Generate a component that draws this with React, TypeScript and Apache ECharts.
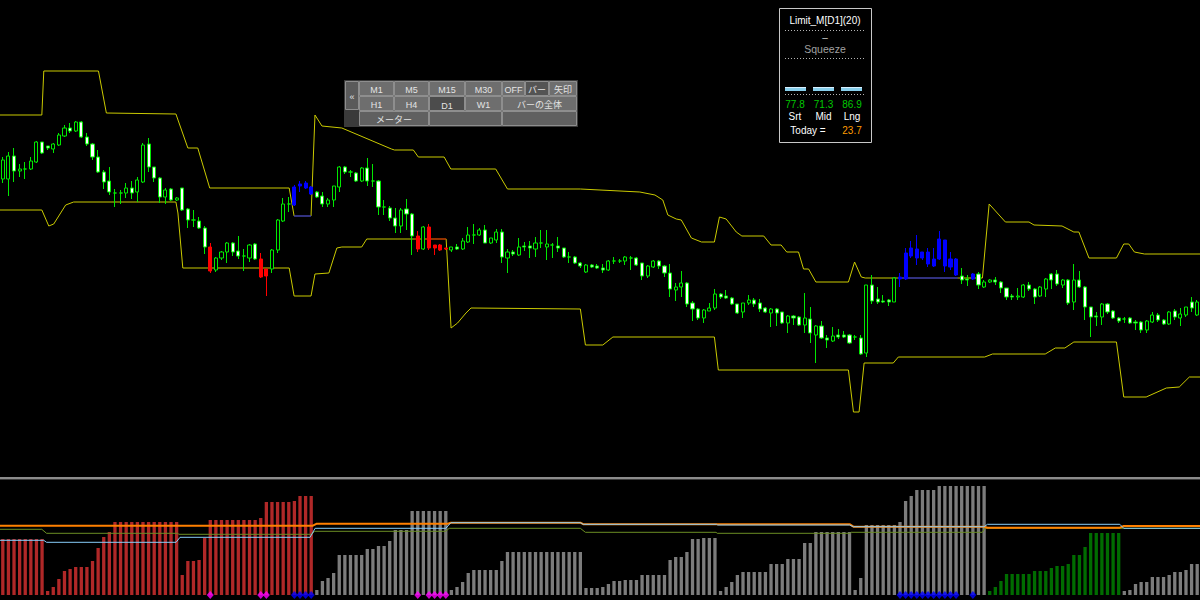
import React, { useEffect, useRef } from "react";
import * as echarts from "echarts";

// ---------- price data (levels, larger = lower on screen) ----------
const FIRST_BAR = -1;

const opens = [
  179, 179, 156, 171, 169, 169, 162, 142, 146, 149,
  145, 136, 128, 131, 122, 137, 144, 157, 172, 181,
  193, 193, 193, 188, 192, 182, 144, 167, 178, 197,
  189, 200, 188, 209, 220, 221, 228, 247, 270, 258,
  252, 243, 251, 256, 258, 244, 259, 269, 269, 250,
  221, 204, 205, 186, 188, 194, 192, 196, 204, 200,
  187, 167, 172, 173, 181, 168, 181, 181, 207, 208,
  218, 226, 209, 214, 236, 249, 227, 245, 245, 248,
  250, 247, 249, 242, 235, 235, 230, 243, 240, 232,
  258, 252, 255, 246, 246, 249, 243, 247, 245, 246,
  248, 257, 257, 263, 272, 265, 266, 268, 270, 261,
  261, 261, 258, 258, 263, 276, 267, 261, 266, 273,
  290, 287, 283, 303, 309, 318, 311, 308, 294, 296,
  298, 304, 312, 303, 300, 303, 308, 313, 309, 312,
  323, 316, 317, 325, 319, 335, 326, 338, 341, 335,
  335, 335, 337, 338, 353, 285, 299, 301, 300, 302,
  279, 279, 256, 249, 252, 252, 266, 259, 240, 259,
  259, 276, 279, 279, 274, 287, 282, 280, 282, 288,
  296, 297, 297, 285, 289, 296, 289, 274, 274, 285,
  280, 302, 280, 287, 307, 316, 317, 304, 311, 318,
  319, 318, 322, 322, 330, 322, 315, 320, 324, 311,
  318, 315, 302, 315,
];
const closes = [
  160, 156, 171, 169, 169, 161, 142, 153, 148, 144,
  135, 128, 131, 122, 137, 144, 157, 172, 182, 192,
  193, 193, 188, 193, 180, 145, 167, 178, 197, 190,
  200, 198, 210, 220, 220, 228, 247, 271, 258, 252,
  243, 252, 256, 256, 245, 259, 277, 276, 250, 220,
  204, 204, 187, 184, 183, 187, 197, 204, 200, 186,
  167, 172, 172, 181, 168, 181, 181, 207, 207, 218,
  226, 210, 214, 236, 249, 227, 248, 248, 250, 249,
  247, 249, 241, 235, 235, 230, 243, 238, 232, 257,
  252, 254, 247, 247, 248, 243, 243, 244, 245, 248,
  257, 257, 263, 266, 265, 267, 268, 270, 261, 261,
  261, 257, 258, 265, 276, 266, 261, 266, 273, 289,
  287, 283, 304, 309, 318, 310, 308, 294, 297, 298,
  304, 313, 303, 300, 304, 309, 312, 309, 313, 323,
  316, 318, 325, 318, 333, 326, 338, 340, 336, 337,
  337, 343, 337, 354, 285, 301, 302, 302, 302, 278,
  277, 253, 248, 258, 258, 264, 259, 239, 266, 267,
  275, 280, 280, 274, 285, 282, 280, 282, 288, 297,
  297, 296, 285, 289, 297, 287, 279, 280, 284, 280,
  303, 280, 287, 307, 317, 317, 304, 312, 318, 321,
  319, 323, 323, 330, 321, 315, 320, 324, 312, 317,
  314, 307, 308, 302,
];
const highs = [
  157, 152, 148, 164, 162, 157, 141, 142, 146, 143,
  133, 125, 123, 121, 121, 133, 143, 150, 170, 167,
  189, 190, 183, 181, 177, 143, 138, 167, 177, 188,
  188, 197, 188, 208, 210, 217, 226, 243, 257, 251,
  242, 242, 236, 249, 244, 243, 253, 269, 249, 219,
  198, 197, 185, 181, 181, 186, 191, 192, 198, 186,
  166, 166, 170, 172, 167, 158, 164, 180, 200, 206,
  208, 208, 199, 213, 231, 226, 224, 245, 244, 248,
  247, 244, 238, 227, 224, 228, 225, 238, 229, 229,
  249, 250, 238, 242, 241, 237, 230, 230, 243, 237,
  248, 252, 256, 262, 264, 264, 264, 264, 260, 257,
  259, 256, 256, 257, 263, 265, 260, 260, 265, 264,
  283, 271, 282, 301, 308, 309, 303, 289, 293, 290,
  297, 304, 303, 295, 298, 299, 307, 308, 308, 312,
  315, 315, 316, 293, 307, 325, 321, 335, 327, 329,
  331, 334, 335, 335, 285, 275, 287, 295, 299, 277,
  273, 248, 241, 235, 252, 248, 248, 231, 240, 252,
  258, 268, 275, 273, 272, 280, 279, 277, 281, 288,
  294, 288, 284, 282, 288, 286, 278, 273, 270, 279,
  279, 264, 271, 286, 307, 312, 303, 303, 310, 317,
  317, 317, 320, 321, 320, 312, 313, 319, 311, 309,
  308, 307, 297, 300,
];
const lows = [
  183, 196, 182, 177, 179, 170, 163, 154, 150, 153,
  146, 137, 133, 132, 138, 146, 160, 173, 189, 195,
  207, 204, 198, 199, 202, 183, 172, 182, 203, 204,
  201, 201, 211, 228, 227, 229, 254, 273, 272, 260,
  263, 256, 259, 271, 262, 260, 278, 296, 273, 253,
  222, 212, 206, 192, 189, 195, 198, 207, 207, 207,
  192, 174, 177, 182, 182, 186, 187, 215, 215, 221,
  233, 233, 230, 255, 252, 250, 250, 255, 251, 250,
  252, 250, 250, 243, 244, 236, 243, 244, 243, 263,
  273, 256, 256, 251, 258, 257, 248, 260, 258, 252,
  258, 263, 264, 268, 273, 268, 269, 273, 271, 264,
  263, 265, 270, 266, 280, 278, 268, 269, 277, 297,
  301, 297, 307, 321, 320, 323, 311, 310, 299, 299,
  305, 314, 318, 305, 307, 312, 313, 327, 326, 324,
  333, 325, 326, 333, 343, 363, 339, 348, 342, 339,
  338, 344, 340, 355, 357, 304, 304, 303, 306, 302,
  287, 280, 258, 265, 260, 267, 267, 260, 272, 270,
  276, 284, 286, 280, 289, 288, 283, 285, 293, 300,
  300, 300, 298, 291, 304, 297, 297, 289, 286, 288,
  305, 310, 288, 320, 337, 326, 325, 314, 319, 323,
  323, 324, 330, 333, 333, 323, 322, 325, 325, 320,
  326, 317, 312, 316,
];

// bars flagged by the indicator
const redSignals = [36, 45, 46, 73, 75, 76, 77, 78];
const blueSignals = [51, 52, 53, 54, 159, 160, 161, 162, 163, 164, 165, 166, 167, 168, 169, 172];

// channel lines: [bar position, level]
const upperBand = [
  [-1.5, 115], [5.96, 115], [6.31, 71], [16.06, 71], [17.47, 113], [29.87, 114], [32.0, 148],
  [33.77, 148], [35.9, 188], [50.07, 188], [50.95, 216], [53.97, 216], [54.67, 115], [55.91, 126],
  [59.46, 128], [68.31, 149], [68.85, 150], [72.21, 150], [73.1, 157], [77.7, 157], [78.9, 169],
  [86.9, 169], [89.0, 189], [102.0, 189], [105.5, 190], [112.6, 192], [115.3, 195], [116.7, 200],
  [117.6, 215], [119.1, 219], [120.0, 220], [121.8, 238], [123.6, 242], [125.9, 242], [126.8, 217],
  [128.0, 219], [129.8, 232], [130.8, 236], [134.7, 236], [136.0, 245], [137.8, 245], [138.8, 252],
  [140.9, 252], [141.8, 269], [142.7, 269], [144.0, 282], [149.8, 282], [150.9, 262], [152.1, 277],
  [152.8, 278], [173.7, 278], [174.9, 204], [177.8, 222], [182.0, 222], [182.9, 225], [187.9, 226],
  [190.0, 232], [190.9, 232], [192.7, 258], [197.6, 258], [198.9, 244], [199.8, 244], [200.8, 252],
  [202.6, 254], [212.5, 254],
];
const lowerBand = [
  [-1.5, 210], [5.96, 210], [7.2, 226], [8.08, 224], [10.21, 205], [11.63, 202], [29.87, 202],
  [30.23, 213], [31.1, 268], [50.07, 268], [50.95, 296], [53.97, 296], [54.67, 274], [57.15, 273],
  [58.57, 248], [59.46, 247], [63.0, 247], [63.9, 239], [78.06, 239], [78.94, 328], [80.1, 323],
  [81.6, 313], [82.5, 308], [102.0, 309], [102.9, 345], [106.0, 345], [107.8, 337], [125.9, 337],
  [126.6, 370], [149.8, 370], [150.7, 412], [151.7, 412], [152.6, 363], [157.8, 363], [158.7, 357],
  [174.1, 357], [175.5, 354], [184.9, 354], [186.7, 348], [188.4, 348], [190.0, 342], [197.6, 342],
  [198.9, 397], [202.9, 397], [206.5, 388], [208.8, 387], [210.6, 377], [212.5, 377],
];
const squeezeUpSegments = [
  [[50.95, 216], [53.97, 216]],
  [[158.7, 278], [169.3, 278]],
];
const squeezeDownSegments = [
  [[72.4, 239], [78.06, 239]],
];

// ---------- meter sub-window ----------
const histogram = [
  56, 56, 56, 56, 56, 56, 56, 56, 4, 8,
  16, 24, 26, 28, 28, 28, 34, 47, 58, 63,
  73, 73, 73, 73, 73, 73, 73, 73, 73, 73,
  73, 73, 20, 34, 34, 35, 57, 75, 75, 75,
  75, 75, 75, 75, 75, 75, 77, 93, 93, 93,
  93, 93, 94, 99, 99, 99, 5, 14, 17, 22,
  40, 40, 40, 40, 40, 46, 46, 49, 49, 54,
  65, 65, 65, 84, 84, 84, 84, 84, 84, 84,
  5, 8, 13, 22, 25, 25, 25, 25, 25, 34,
  43, 43, 43, 43, 43, 43, 43, 43, 43, 43,
  43, 43, 43, 43, 7, 7, 7, 8, 11, 14,
  14, 15, 15, 15, 20, 20, 20, 20, 20, 35,
  38, 38, 43, 56, 56, 57, 57, 57, 4, 8,
  13, 20, 23, 23, 23, 23, 23, 31, 31, 31,
  36, 36, 36, 52, 52, 63, 63, 63, 63, 63,
  63, 63, 5, 17, 70, 70, 70, 70, 70, 70,
  73, 94, 99, 105, 105, 105, 105, 109, 109, 109,
  109, 109, 109, 109, 109, 109, 4, 8, 14, 21,
  21, 21, 21, 21, 24, 24, 24, 27, 29, 29,
  31, 40, 40, 48, 62, 62, 62, 62, 62, 62,
  4, 5, 11, 13, 13, 18, 18, 18, 20, 23,
  23, 25, 31, 31,
];
const histZones = [
  [-1, 54, "bear"],
  [55, 174, "flat"],
  [175, 198, "bull"],
  [199, 212, "flat"],
];
const limitLine = [
  [-1.5, 65.7], [5.96, 65.7], [6.8, 61.7], [30.2, 61.7], [30.4, 60.7], [54.1, 60.7], [54.6, 63.7],
  [78.0, 63.7], [78.6, 66.7], [102.0, 66.7], [102.9, 62.7], [126.2, 62.7], [126.4, 61.7],
  [150.1, 61.7], [150.3, 62.7], [173.7, 62.7], [174.1, 66.7], [212.5, 66.7],
];
const orangeLine = [
  [-1.5, 69.3], [54.3, 69.3], [55.0, 71.3], [78.4, 71.3], [78.9, 72.3], [102.0, 72.3], [102.5, 70.8],
  [150.0, 70.8], [150.7, 68.3], [174.0, 68.3], [174.6, 67.3], [198.2, 67.3], [198.9, 69], [212.5, 69],
];
const skyLine = [
  [-1.5, 54.7], [6.3, 54.7], [6.8, 52.7], [29.9, 52.7], [30.6, 57.7], [53.8, 57.7], [54.7, 66.7],
  [78.0, 66.7], [78.9, 72.3], [102.0, 72.3], [102.5, 70.7], [126.3, 70.7], [126.5, 70.0],
  [150.0, 70.0], [150.7, 68.3], [174.0, 68.3], [174.6, 70.7], [198.2, 70.7], [198.9, 66.7],
  [212.5, 66.7],
];

// ---------- panel texts ----------
const tfRow1 = ["M1", "M5", "M15", "M30", "OFF", "バー", "矢印"];
const tfRow2 = ["H1", "H4", "D1", "W1", "バーの全体"];
const tfRow3 = ["メーター", "", ""];
const meterTitle = "Limit_M[D1](20)";
const meterState = "Squeeze";
const meterValues = ["77.8", "71.3", "86.9"];
const meterLabels = ["Srt", "Mid", "Lng"];
const todayValue = "23.7";

const FONT = '"Liberation Sans", "Noto Sans CJK JP", sans-serif';
const GREEN = "#00e800";
const YELLOW = "#caca00";

function buildOption() {
  const cats = opens.map((_, k) => String(FIRST_BAR + k));
  const zoneColor = { bear: "#b02828", flat: "#7c7c7c", bull: "#006c00" };

  const candles = opens.map((o, k) => {
    const idx = FIRST_BAR + k;
    const c = closes[k];
    let fill: string;
    let edge: string;
    if (redSignals.includes(idx)) {
      fill = edge = "#ff0000";
    } else if (blueSignals.includes(idx)) {
      fill = edge = "#0000ff";
    } else {
      edge = GREEN;
      fill = c < o ? "#000000" : "#ffffff";
    }
    return {
      value: [o, c, Math.min(highs[k], lows[k]), Math.max(highs[k], lows[k])],
      itemStyle: { color: fill, color0: fill, borderColor: edge, borderColor0: edge, borderColorDoji: edge, borderWidth: 1 },
    };
  });

  const bars = histogram.map((v, k) => {
    const idx = FIRST_BAR + k;
    const z = histZones.find((zz) => idx >= (zz[0] as number) && idx <= (zz[1] as number));
    return { value: v, itemStyle: { color: zoneColor[(z ? z[2] : "flat") as "bear"] } };
  });

  const lineBase = (data: number[][], color: string, width: number, xi: number, yi: number) => ({
    type: "line",
    xAxisIndex: xi,
    yAxisIndex: yi,
    data,
    symbol: "none",
    showSymbol: false,
    silent: true,
    lineStyle: { color, width },
    z: 2,
  });

  const series: any[] = [
    lineBase(upperBand, YELLOW, 1, 1, 0),
    lineBase(lowerBand, YELLOW, 1, 1, 0),
    ...squeezeUpSegments.map((s) => lineBase(s, "#0000ff", 1, 1, 0)),
    ...squeezeDownSegments.map((s) => lineBase(s, "#c00000", 1, 1, 0)),
    {
      type: "candlestick",
      xAxisIndex: 0,
      yAxisIndex: 0,
      data: candles,
      barWidth: 3.6,
      silent: true,
      z: 3,
    },
    {
      type: "bar",
      xAxisIndex: 2,
      yAxisIndex: 1,
      data: bars,
      barWidth: 3.3,
      silent: true,
    },
  ];
  const limitIndex = series.length;
  series.push(lineBase(limitLine, "#6b8e23", 1, 3, 1));
  series.push(lineBase(orangeLine, "#ff8000", 2, 3, 1));
  series.push(lineBase(skyLine, "#87cefa", 1, 3, 1));
  series.push({
    type: "scatter",
    xAxisIndex: 2,
    yAxisIndex: 1,
    data: redSignals.map((i) => [String(i), 0]),
    symbol: "diamond",
    symbolSize: [7, 8],
    itemStyle: { color: "#ff00ff" },
    clip: false,
    silent: true,
    z: 4,
  });
  series.push({
    type: "scatter",
    xAxisIndex: 2,
    yAxisIndex: 1,
    data: blueSignals.map((i) => [String(i), 0]),
    symbol: "diamond",
    symbolSize: [7, 8],
    itemStyle: { color: "#0000ff" },
    clip: false,
    silent: true,
    z: 4,
  });

  // ---------- graphics: button panel + meter box ----------
  const g: any[] = [];
  g.push({ type: "rect", shape: { x: 0, y: 477, width: 1200, height: 2 }, style: { fill: "#8c8c8c" }, silent: true });
  g.push({ type: "rect", shape: { x: 0, y: 479, width: 1200, height: 1 }, style: { fill: "#3c3c3c" }, silent: true });

  const cell = (x: number, y: number, w: number, h: number, t: string, fill: string, dy = 0) => {
    g.push({
      type: "rect",
      shape: { x: x + 0.5, y: y + 0.5, width: w - 1, height: h - 1 },
      style: { fill, stroke: "#8e8e8e", lineWidth: 1 },
      silent: true,
      z: 10,
    });
    if (t) {
      g.push({
        type: "text",
        x: x + w / 2,
        y: y + h / 2 + 1 + dy,
        style: { text: t, fill: "#e4e4e4", font: `9px ${FONT}`, textAlign: "center", textVerticalAlign: "middle", align: "center", verticalAlign: "middle" },
        silent: true,
        z: 11,
      });
    }
  };
  g.push({ type: "rect", shape: { x: 344, y: 80, width: 234, height: 47 }, style: { fill: "#3a3a3a" }, silent: true, z: 9 });
  cell(345, 81, 14, 29, "«", "#5a5a5a");
  const r1x = [359, 394, 429, 465, 502, 525, 549, 577];
  tfRow1.forEach((t, i) => cell(r1x[i], 81, r1x[i + 1] - r1x[i], 15, t, t === "バー" ? "#545454" : "#6e6e6e"));
  const r2x = [359, 394, 429, 465, 502, 577];
  tfRow2.forEach((t, i) => cell(r2x[i], 96, r2x[i + 1] - r2x[i], 15, t, t === "D1" ? "#4c4c4c" : "#6e6e6e", t === "D1" ? 1 : 0));
  const r3x = [359, 429, 502, 577];
  tfRow3.forEach((t, i) => cell(r3x[i], 111, r3x[i + 1] - r3x[i], 15, t, "#606060"));

  // meter box
  g.push({ type: "rect", shape: { x: 779.5, y: 8.5, width: 92, height: 134 }, style: { fill: "#000000", stroke: "#c8c8c8", lineWidth: 1 }, silent: true, z: 10 });
  const txt = (x: number, y: number, t: string, fill: string, size = 10) =>
    g.push({
      type: "text",
      x,
      y,
      style: { text: t, fill, font: `${size}px ${FONT}`, textAlign: "center", textVerticalAlign: "middle", align: "center", verticalAlign: "middle" },
      silent: true,
      z: 11,
    });
  const dots = (y: number) =>
    g.push({ type: "line", shape: { x1: 785, y1: y, x2: 866, y2: y }, style: { stroke: "#b4b4b4", lineWidth: 1, lineDash: [1, 2] }, silent: true, z: 11 });
  txt(825, 20, meterTitle, "#ffffff", 10);
  dots(30.5);
  txt(825, 37, "–", "#c8c8c8", 10);
  txt(825, 49, meterState, "#a0a0a0", 10.5);
  dots(58.5);
  [785, 813, 841].forEach((x) => {
    g.push({ type: "rect", shape: { x, y: 87, width: 21, height: 4 }, style: { fill: "#87ceeb" }, silent: true, z: 11 });
    g.push({ type: "rect", shape: { x, y: 87, width: 21, height: 1 }, style: { fill: "#d8f0ff" }, silent: true, z: 12 });
  });
  dots(94.5);
  const colX = [795, 823.5, 852];
  meterValues.forEach((v, i) => txt(colX[i], 104, v, "#00c800", 10));
  meterLabels.forEach((v, i) => txt(colX[i], 116, v, "#ffffff", 10));
  txt(808, 130, "Today =", "#ffffff", 10);
  txt(852, 130, todayValue, "#ff9c00", 10);

  return {
    animation: false,
    backgroundColor: "#000000",
    grid: [
      { left: -4, top: 0, width: 1208, height: 470, show: false },
      { left: -4, top: 480, width: 1208, height: 115, show: false },
    ],
    xAxis: [
      { type: "category", gridIndex: 0, data: cats, boundaryGap: true, show: false },
      { type: "value", gridIndex: 0, min: -1.5, max: 212.5, show: false },
      { type: "category", gridIndex: 1, data: cats, boundaryGap: true, show: false },
      { type: "value", gridIndex: 1, min: -1.5, max: 212.5, show: false },
    ],
    yAxis: [
      { type: "value", gridIndex: 0, min: 0, max: 470, inverse: true, show: false },
      { type: "value", gridIndex: 1, min: 0, max: 115, show: false },
    ],
    visualMap: [
      {
        type: "piecewise",
        show: false,
        seriesIndex: limitIndex,
        dimension: 0,
        pieces: [
          { lt: 6.5, color: "#6b8e23" },
          { gte: 6.5, lt: 30.3, color: "#b4f03c" },
          { gte: 30.3, lt: 126.3, color: "#5f7f1f" },
          { gte: 126.3, lt: 150.2, color: "#b4f03c" },
          { gte: 150.2, lt: 174, color: "#c8d2a0" },
          { gte: 174, color: "#6b8e23" },
        ],
      },
    ],
    series,
    graphic: { elements: g },
  };
}

export default function App() {
  const ref = useRef<HTMLDivElement>(null);
  useEffect(() => {
    if (!ref.current) return;
    const chart = echarts.init(ref.current, undefined, { renderer: "svg" });
    chart.setOption(buildOption() as any);
    return () => chart.dispose();
  }, []);
  return <div ref={ref} style={{ position: "fixed", left: 0, top: 0, width: 1200, height: 600, background: "#000" }} />;
}
